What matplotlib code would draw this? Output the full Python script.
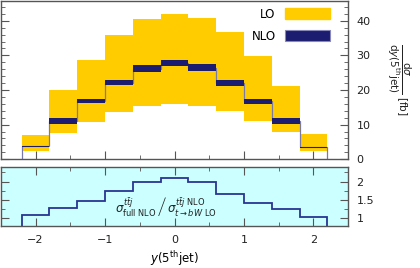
import numpy as np
import matplotlib
matplotlib.use("Agg")
import matplotlib.pyplot as plt
from matplotlib.patches import Patch
from matplotlib.ticker import MultipleLocator

edges = [-2.2, -1.8, -1.4, -1.0, -0.6, -0.2, 0.2, 0.6, 1.0, 1.4, 1.8, 2.2]

lo_low = [2.4, 7.5, 10.8, 13.6, 15.3, 15.9, 15.4, 13.9, 11.1, 7.8, 2.5]
lo_high = [7.0, 20.1, 28.7, 35.9, 40.5, 42.1, 40.8, 36.7, 29.7, 21.1, 7.3]

nlo_low = [3.4, 10.3, 16.1, 21.3, 25.2, 26.8, 25.4, 21.1, 15.9, 10.3, 3.2]
nlo_high = [3.9, 11.8, 17.5, 22.9, 27.1, 28.7, 27.4, 22.8, 17.5, 11.8, 3.6]
nlo_central = [3.7, 11.0, 16.8, 22.1, 26.1, 27.7, 26.4, 22.0, 16.7, 11.0, 3.4]

ratio = [1.09, 1.27, 1.47, 1.75, 1.99, 2.10, 1.99, 1.67, 1.42, 1.24, 1.04]

yellow = "#ffcc00"
navy = "#1c1c70"
spine_col = "#555555"

plt.rcParams["font.family"] = "DejaVu Sans"
plt.rcParams["mathtext.fontset"] = "dejavusans"

fig = plt.figure(figsize=(4.2, 2.68), dpi=100)
ax = fig.add_axes([0.002, 0.406, 0.827, 0.590])
ax2 = fig.add_axes([0.002, 0.158, 0.827, 0.218])

# upper panel
ax.stairs(lo_high, edges, baseline=lo_low, fill=True, color=yellow, lw=0)
ax.stairs(nlo_central, edges, baseline=0, color="#7a7aa6", lw=0.9)
ax.stairs(nlo_high, edges, baseline=nlo_low, fill=True, color=navy, lw=0)

ax.set_xlim(-2.5, 2.5)
ax.set_ylim(0, 45.7)
ax.xaxis.set_major_locator(MultipleLocator(1))
ax.xaxis.set_minor_locator(MultipleLocator(0.5))
ax.yaxis.set_major_locator(MultipleLocator(10))
ax.yaxis.set_minor_locator(MultipleLocator(2))
ax.tick_params(which="both", direction="in", left=True, right=True,
               labelleft=False, labelright=True, labelbottom=False,
               color=spine_col, labelsize=8, labelcolor="#222222", pad=6)
ax.tick_params(which="major", length=6)
ax.tick_params(which="minor", length=3)

handles = [Patch(facecolor=yellow, edgecolor=yellow, label="LO"),
           Patch(facecolor=navy, edgecolor="#8888bb", lw=0.8, label="NLO")]
ax.legend(handles=handles, loc="upper right", bbox_to_anchor=(0.978, 1.025),
          frameon=False, markerfirst=False, fontsize=8.5,
          handlelength=3.8, handleheight=1.0, labelspacing=0.75)

fig.text(0.95, 0.705,
         r"$\dfrac{\mathrm{d}\sigma}{\mathrm{d}y(5^{\mathrm{th}}\mathrm{jet})}$ [fb]",
         rotation=270, ha="center", va="center", fontsize=7.5, color="#222222")

# ratio panel
ax2.set_facecolor("#ccffff")
ax2.stairs(ratio, edges, baseline=0, color="#283593", lw=1.3)
ax2.set_xlim(-2.5, 2.5)
ax2.set_ylim(0.8, 2.39)
ax2.xaxis.set_major_locator(MultipleLocator(1))
ax2.xaxis.set_minor_locator(MultipleLocator(0.5))
ax2.yaxis.set_major_locator(MultipleLocator(0.5))
ax2.yaxis.set_minor_locator(MultipleLocator(0.25))
ax2.yaxis.set_major_formatter(plt.FuncFormatter(lambda v, p: f"{v:g}"))
ax2.tick_params(which="both", direction="in", left=True, right=True, top=True,
                labelleft=False, labelright=True,
                color=spine_col, labelsize=8, labelcolor="#222222", pad=6)
ax2.tick_params(axis="x", pad=7)
ax2.tick_params(which="major", length=6)
ax2.tick_params(which="minor", length=3)
ax2.text(-0.12, 1.33,
         r"$\sigma^{t\bar{t}j}_{\mathrm{full\ NLO}}\,\left/\,\sigma^{t\bar{t}j\ \mathrm{NLO}}_{t\to bW\ \mathrm{LO}}\right.$",
         ha="center", va="center", fontsize=8.5, color="#222222")
ax2.set_xlabel(r"$y(5^{\mathrm{th}}\mathrm{jet})$", fontsize=8.5, labelpad=3)

for a in (ax, ax2):
    for s in a.spines.values():
        s.set_color(spine_col)
        s.set_linewidth(1.0)

fig.savefig("out.png", dpi=100)
